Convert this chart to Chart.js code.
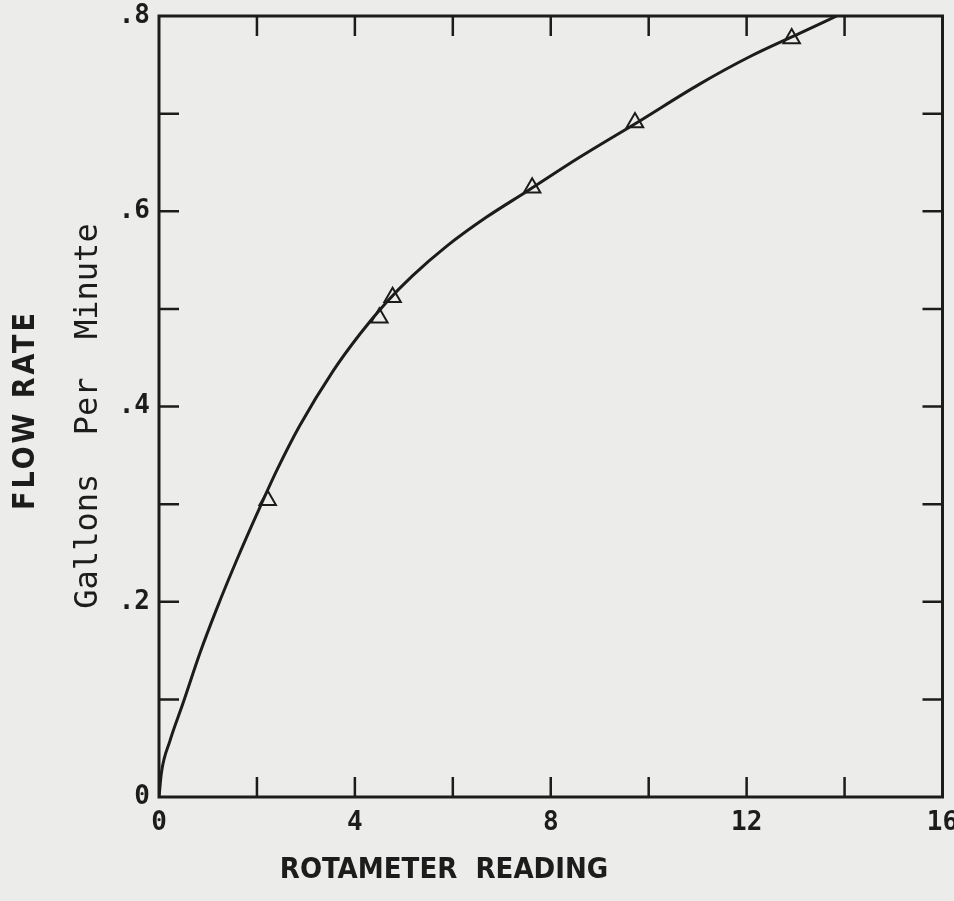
<!DOCTYPE html>
<html>
<head>
<meta charset="utf-8">
<script src="https://cdn.jsdelivr.net/npm/chart.js@4"></script>
<style>
  html, body { margin: 0; padding: 0; background: #ececea; }
  #wrap { width: 954px; height: 901px; }
</style>
</head>
<body>
<div id="wrap"><canvas id="flowChart" width="954" height="901"></canvas></div>
<script>
// calibration curve
const curveX = [0, 0.05, 0.22, 0.49, 0.84, 1.18, 1.59, 2.0, 2.41, 2.87, 3.55, 4.1, 4.65, 5.18, 5.87, 6.69, 7.5, 8.58, 9.8, 11.03, 12.05, 13.07, 13.84];
const curveY = [0, 0.025, 0.057, 0.096, 0.148, 0.193, 0.243, 0.290, 0.335, 0.380, 0.436, 0.474, 0.507, 0.534, 0.564, 0.594, 0.620, 0.655, 0.692, 0.730, 0.758, 0.782, 0.80];

// measured points (triangles)
const pointX = [2.22, 4.5, 4.77, 7.62, 9.72, 12.92];
const pointY = [0.304, 0.491, 0.512, 0.624, 0.691, 0.777];

const xTickLabels = { 0: '0', 4: '4', 8: '8', 12: '12', 16: '16' };
const yTickLabels = { 0: '0', 2: '.2', 4: '.4', 6: '.6', 8: '.8' };

const xTitle = 'ROTAMETER  READING';
const yTitle = 'FLOW RATE';
const yUnits = 'Gallons  Per  Minute';

const ink = '#1c1c1c';

// box round the plot with short ticks pointing inward on all four sides
const frameTicks = {
  id: 'frameTicks',
  afterDraw(chart) {
    const { ctx, chartArea: a, scales } = chart;
    const len = 20;
    ctx.save();
    ctx.strokeStyle = ink;
    ctx.lineWidth = 3;
    ctx.strokeRect(a.left, a.top, a.right - a.left, a.bottom - a.top);
    ctx.lineWidth = 2.5;
    ctx.beginPath();
    scales.x.ticks.forEach(t => {
      const px = scales.x.getPixelForValue(t.value);
      if (px <= a.left + 1 || px >= a.right - 1) return;
      ctx.moveTo(px, a.bottom); ctx.lineTo(px, a.bottom - len);
      ctx.moveTo(px, a.top); ctx.lineTo(px, a.top + len);
    });
    scales.y.ticks.forEach(t => {
      const py = scales.y.getPixelForValue(t.value);
      if (py <= a.top + 1 || py >= a.bottom - 1) return;
      ctx.moveTo(a.left, py); ctx.lineTo(a.left + len, py);
      ctx.moveTo(a.right, py); ctx.lineTo(a.right - len, py);
    });
    ctx.stroke();

    // axis titles
    ctx.fillStyle = ink;
    ctx.textAlign = 'center';
    ctx.textBaseline = 'middle';
    ctx.font = 'bold 29px "DejaVu Sans Condensed", "Liberation Sans Narrow", sans-serif';
    ctx.letterSpacing = '0px';
    ctx.fillText(xTitle, a.left + 285, 870);

    ctx.save();
    ctx.translate(26, a.top + 394);
    ctx.rotate(-Math.PI / 2);
    ctx.font = 'bold 30px "DejaVu Sans Condensed", "Liberation Sans Narrow", sans-serif';
    ctx.letterSpacing = '3px';
    ctx.fillText(yTitle, 0, 0);
    ctx.restore();

    ctx.save();
    ctx.translate(89, a.top + 400);
    ctx.rotate(-Math.PI / 2);
    ctx.letterSpacing = '0px';
    ctx.font = '32px "DejaVu Sans Mono", monospace';
    ctx.fillText(yUnits, 0, 0);
    ctx.restore();
    ctx.restore();
  }
};

const tickFont = { family: '"DejaVu Sans Mono", monospace', size: 26, weight: 'bold' };

new Chart(document.getElementById('flowChart').getContext('2d'), {
  type: 'scatter',
  data: {
    datasets: [
      {
        label: 'curve',
        data: curveX.map((x, i) => ({ x, y: curveY[i] })),
        showLine: true,
        borderColor: ink,
        borderWidth: 3,
        pointRadius: 0,
        cubicInterpolationMode: 'monotone',
      },
      {
        label: 'measured',
        data: pointX.map((x, i) => ({ x, y: pointY[i] })),
        showLine: false,
        pointStyle: 'triangle',
        pointRadius: 9.5,
        borderColor: ink,
        borderWidth: 2,
        backgroundColor: 'rgba(0,0,0,0)',
      },
    ],
  },
  options: {
    responsive: false,
    animation: false,
    layout: { padding: { top: 16, right: 10, left: 0, bottom: 0 } },
    plugins: { legend: { display: false }, tooltip: { enabled: false } },
    scales: {
      x: {
        type: 'linear',
        min: 0,
        max: 16,
        grid: { display: false, drawTicks: false },
        border: { display: false },
        ticks: {
          stepSize: 2,
          padding: 11,
          color: ink,
          font: tickFont,
          maxRotation: 0,
          autoSkip: false,
          callback: v => xTickLabels[v] || '',
        },
        afterFit: s => { s.height = 104; s.paddingLeft = 0; s.paddingRight = 0; },
      },
      y: {
        type: 'linear',
        min: 0,
        max: 0.8,
        grid: { display: false, drawTicks: false },
        border: { display: false },
        ticks: {
          stepSize: 0.1,
          padding: 9,
          color: ink,
          font: tickFont,
          autoSkip: false,
          callback: v => yTickLabels[Math.round(v * 10)] || '',
        },
        afterFit: s => { s.width = 159; s.paddingTop = 0; s.paddingBottom = 0; },
      },
    },
  },
  plugins: [frameTicks],
});
</script>
</body>
</html>
